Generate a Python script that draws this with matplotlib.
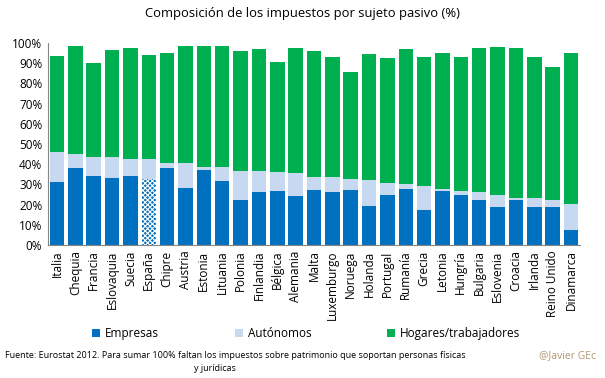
import matplotlib.pyplot as plt
import numpy as np

paises = ['Italia', 'Chequia', 'Francia', 'Eslovaquia', 'Suecia', 'España', 'Chipre',
          'Austria', 'Estonia', 'Lituania', 'Polonia', 'Finlandia', 'Bélgica', 'Alemania',
          'Malta', 'Luxemburgo', 'Noruega', 'Holanda', 'Portugal', 'Rumanía', 'Grecia',
          'Letonia', 'Hungría', 'Bulgaria', 'Eslovenia', 'Croacia', 'Irlanda',
          'Reino Unido', 'Dinamarca']

# cumulative levels (%)
empresas = [31.0, 38.1, 34.0, 33.0, 34.0, 32.5, 37.9, 28.0, 37.0, 31.5, 22.5, 26.0, 26.5, 24.0,
            27.0, 26.0, 27.0, 19.5, 24.5, 27.5, 17.5, 26.5, 24.5, 22.5, 19.0, 22.5, 19.0,
            19.0, 7.6]
hasta_autonomos = [45.9, 45.3, 43.4, 43.4, 42.4, 42.4, 40.4, 40.4, 38.5, 38.5, 36.5, 36.5, 36.0,
                   35.5, 33.5, 33.5, 32.5, 32.0, 30.5, 30.0, 29.0, 27.5, 26.5, 26.0, 24.5,
                   23.5, 23.5, 22.5, 20.5]
total = [93.7, 98.7, 90.2, 96.7, 97.7, 94.2, 95.2, 98.7, 98.7, 98.7, 96.2, 97.2, 90.7, 97.7,
         96.2, 93.2, 85.7, 94.7, 92.7, 97.2, 93.2, 95.2, 93.2, 97.7, 98.2, 97.7, 93.2,
         88.2, 95.2]

autonomos = np.array(hasta_autonomos) - np.array(empresas)
hogares = np.array(total) - np.array(hasta_autonomos)

c_emp = '#0070C0'
c_aut = '#C6D9F1'
c_hog = '#00B050'

plt.rcParams['font.family'] = ['Open Sans', 'DejaVu Sans']
plt.rcParams['hatch.color'] = 'white'
plt.rcParams['hatch.linewidth'] = 0.8

fig = plt.figure(figsize=(6.05, 3.78), dpi=100)
ax = fig.add_axes([0.079, 0.352, 0.88, 0.534])

x = np.arange(len(paises))
w = 0.79
b1 = ax.bar(x, empresas, w, color=c_emp, label='Empresas', linewidth=0)
b2 = ax.bar(x, autonomos, w, bottom=empresas, color=c_aut, label='Autónomos', linewidth=0)
b3 = ax.bar(x, hogares, w, bottom=hasta_autonomos, color=c_hog,
            label='Hogares/trabajadores', linewidth=0)

# España highlighted with a dotted pattern
b1[paises.index('España')].set_hatch('xxxxxxx')

ax.set_xlim(-0.5, len(paises) - 0.5)
ax.set_ylim(0, 100)
ax.set_yticks(range(0, 101, 10))
ax.set_yticklabels(['{}%'.format(v) for v in range(0, 101, 10)], fontsize=8.5)
ax.set_xticks(x)
ax.set_xticklabels(paises, rotation=90, fontsize=8.5)
ax.tick_params(length=0, pad=4)
for s in ['top', 'right']:
    ax.spines[s].set_visible(False)
for s in ['left', 'bottom']:
    ax.spines[s].set_color('#868686')
    ax.spines[s].set_linewidth(0.8)

fig.text(0.5, 0.965, 'Composición de los impuestos por sujeto pasivo (%)',
         ha='center', va='center', fontsize=9.4)

fig.legend(handles=[b1, b2, b3], loc='center', bbox_to_anchor=(0.506, 0.118), ncol=3,
           frameon=False, fontsize=8.5, handlelength=0.7, handleheight=0.7,
           handletextpad=0.4, columnspacing=6.4)

fig.text(0.008, 0.06, 'Fuente: Eurostat 2012. Para sumar 100% faltan los impuestos sobre '
         'patrimonio que soportan personas físicas', fontsize=6.5, va='center')
fig.text(0.356, 0.025, 'y jurídicas', fontsize=6.5, va='center', ha='center')
fig.text(0.985, 0.06, '@Javier GEc', fontsize=7.5, va='center', ha='right', color='#B09870')

fig.savefig('out.png', dpi=100)
